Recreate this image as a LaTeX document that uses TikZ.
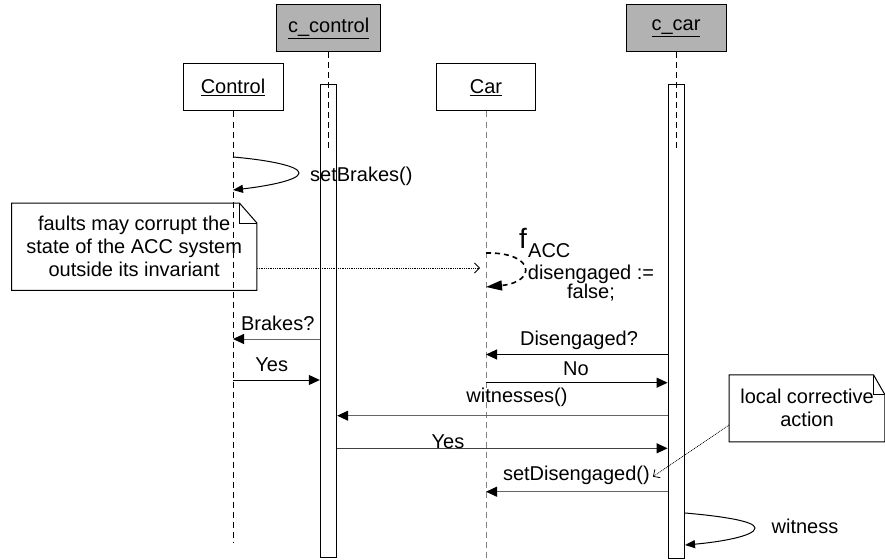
\documentclass[tikz,border=0pt]{standalone}
\usepackage{fontspec}
\setmainfont{Liberation Sans}
\usetikzlibrary{arrows.meta}
\definecolor{boxgray}{RGB}{178,178,178}
\definecolor{dgray}{RGB}{100,100,100}
\begin{document}
\begin{tikzpicture}[x=1pt,y=-1pt,
  font=\fontsize{20}{23}\selectfont,
  obj/.style={draw, line width=1pt, minimum width=#1, minimum height=47pt, inner sep=0pt},
  bar/.style={draw, fill=white, line width=1pt, minimum width=16.4pt, inner sep=0pt},
  life/.style={line width=0.9pt, dash pattern=on 6pt off 4pt},
  msg/.style={line width=1pt, -{Triangle[length=11pt,width=10pt,black]}},
  selfmsg/.style={line width=1pt, -{Triangle[length=10pt,width=8pt,black]}},
  dotline/.style={line width=0.8pt, densely dotted, -{Straight Barb[length=5pt,width=10pt]}},
  lbl/.style={inner sep=0pt, anchor=base},
  notebox/.style={inner sep=0pt, align=center},
  noteline/.style={line width=1pt}
]
\clip (0,0) rectangle (885,559);
\fill[white] (0,0) rectangle (885,559);

% objects
\node[obj=104pt, fill=boxgray] (cc) at (328.7,28.3) {\underline{c\_control}};
\node[obj=100pt] (ctl) at (233,87.5) {\underline{Control}};
\node[obj=99pt] (car) at (486,87.5) {\underline{Car}};
\node[obj=100pt, fill=boxgray] (ccar) at (676,28.3) {\underline{c\_car}};

% lifelines
\coordinate (ctlEnd) at (233,541.7);
\coordinate (carEnd) at (486,559);
\draw[life] (ctl.south) -- (ctlEnd);
\draw[life, gray] (car.south) -- (carEnd);

% activation bars
\node[bar, minimum height=472pt] (barA) at (328.5,321) {};
\node[bar, minimum height=473pt] (barB) at (676.3,321.5) {};
\coordinate (ccEnd) at (328.7,150);
\coordinate (ccarEnd) at (676,150);
\draw[life] (cc.south) -- (ccEnd);
\draw[life] (ccar.south) -- (ccarEnd);

% setBrakes()
\coordinate (sbTurn) at (299,173);
\draw[selfmsg] (ctl.south |- 0,157) .. controls (268,160) and (299,166) .. (sbTurn)
  .. controls (299,180) and (268,186) .. (ctl.south |- 0,190);
\node[lbl, anchor=base west] (lsb) at (310,181.5) {setBrakes()};

% note 1
\node[notebox, minimum width=245pt, minimum height=87pt] (n1) at (134.2,246.7)
  {faults may corrupt the\\state of the ACC system\\outside its invariant};
\draw[noteline] (n1.south west) -- (n1.south east) -- ([yshift=-20pt]n1.north east)
  -- ([xshift=-17.5pt]n1.north east) -- (n1.north west) -- cycle;
\draw[noteline] ([xshift=-17.5pt]n1.north east) |- ([yshift=-20pt]n1.north east);
\coordinate (fTip) at (480,268);
\draw[dotline] (n1.east |- 0,268) -- (fTip);

% fault f_ACC
\draw[line width=1.6pt, dash pattern=on 5pt off 4pt, -{Triangle[length=16pt,width=10pt,black,sep=0pt]}]
  (car.south |- 0,253) .. controls (535,252) and (537,282) .. (car.south |- 0,287);
\node[inner sep=0pt, anchor=base west, font=\fontsize{28}{28}\selectfont] (fl) at (519,248) {f};
\node[inner sep=0pt, anchor=base west] (acc) at (528,257) {ACC};
\node[lbl] (dis1) at (591,279.3) {disengaged :=};
\node[lbl] (dis2) at (591,298) {false;};

% messages
\draw[msg, draw=dgray] (barA.west |- 0,339) -- (ctl.south |- 0,339);
\node[lbl] (lbr) at (277.8,330) {Brakes?};

\draw[msg] (ctl.south |- 0,380) -- (barA.west |- 0,380);
\node[lbl] (ly1) at (271.7,371.7) {Yes};

\draw[msg] (barB.west |- 0,354.5) -- (car.south |- 0,354.5);
\node[lbl] (ldis) at (579,345) {Disengaged?};

\draw[msg] (car.south |- 0,382.7) -- (barB.west |- 0,382.7);
\node[lbl] (lno) at (576,375) {No};

\draw[msg, draw=dgray] (barB.west |- 0,415.7) -- (barA.east |- 0,415.7);
\node[lbl] (lwit) at (517,402) {witnesses()};

\draw[msg, draw=black!75] (barA.east |- 0,448.3) -- (barB.west |- 0,448.3);
\node[lbl] (ly2) at (448,448.3) {Yes};

\draw[msg, draw=dgray] (barB.west |- 0,491.7) -- (car.south |- 0,491.7);
\node[lbl] (lsd) at (576.4,480) {setDisengaged()};

\coordinate (wTurn) at (755,528);
\draw[selfmsg] (barB.east |- 0,513) .. controls (720,516) and (755,521) .. (wTurn)
  .. controls (755,536) and (720,542) .. (barB.east |- 0,545);
\node[lbl] (lw) at (805,533) {witness};

% note 2
\node[notebox, minimum width=155.5pt, minimum height=66.7pt] (n2) at (807,408.3)
  {local corrective\\action};
\draw[noteline] (n2.south west) -- (n2.south east) -- ([yshift=-20pt]n2.north east)
  -- ([xshift=-11.5pt]n2.north east) -- (n2.north west) -- cycle;
\draw[noteline] ([xshift=-11.5pt]n2.north east) |- ([yshift=-20pt]n2.north east);
\coordinate (sdTip) at (653,476.7);
\draw[dotline] (n2.west |- 0,425) -- (sdTip);
\end{tikzpicture}
\end{document}
